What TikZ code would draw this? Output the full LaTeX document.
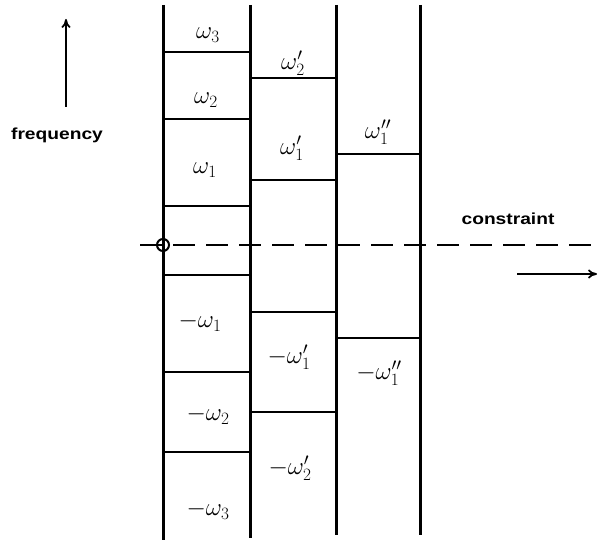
\documentclass[tikz,border=0pt]{standalone}
\usepackage{fontspec}
\newfontfamily\lblfont{Liberation Sans}
\usetikzlibrary{arrows.meta}
\begin{document}
\begin{tikzpicture}[x=1pt,y=-1pt,
  wall/.style={line width=3pt},
  level/.style={line width=2.8pt},
  dashline/.style={line width=2.4pt, dash pattern=on 22pt off 11pt},
  omega/.style={font=\fontsize{23}{25}\selectfont, inner sep=0pt},
  word/.style={font=\lblfont\bfseries\fontsize{16}{18}\selectfont, inner sep=0pt},
  arr/.style={line width=2.2pt, -{To[length=9pt,width=9pt,line width=1.8pt]}}]
\useasboundingbox (0,0) rectangle (598,543);
% columns
\coordinate (c1t) at (163,5);  \coordinate (c1b) at (163,540);
\coordinate (c2t) at (250,5);  \coordinate (c2b) at (250,538);
\coordinate (c3t) at (336,5);  \coordinate (c3b) at (336,535);
\coordinate (c4t) at (420,5);  \coordinate (c4b) at (420,535);
\draw[wall] (c1t) -- (c1b);
\draw[wall] (c2t) -- (c2b);
\draw[wall] (c3t) -- (c3b);
\draw[wall] (c4t) -- (c4b);
% levels column 1
\foreach \y in {52,119,206,275,372,452} \draw[level] (163,\y) -- (250,\y);
% levels column 2
\foreach \y in {78,180,312,412} \draw[level] (250,\y) -- (336,\y);
% levels column 3
\foreach \y in {154,338} \draw[level] (336,\y) -- (420,\y);
% dashed zero line
\coordinate (dl) at (140,245); \coordinate (dr) at (598,245);
\draw[dashline] (dl) -- (dr);
\node[draw, circle, line width=2pt, minimum size=12pt, inner sep=0pt] (zero) at (163,245) {};
% labels
\node[omega] (w3) at (208,35) {$\omega_3$};
\node[omega] (w2) at (206,100) {$\omega_2$};
\node[omega] (w1) at (205,170) {$\omega_1$};
\node[omega] (w2p) at (293,63) {$\omega_2'$};
\node[omega] (w1p) at (292,148) {$\omega_1'$};
\node[omega] (w1pp) at (378,132) {$\omega_1''$};
\node[omega] (mw1) at (200,322) {$-\omega_1$};
\node[omega] (mw1p) at (289,357) {$-\omega_1'$};
\node[omega] (mw1pp) at (379,373) {$-\omega_1''$};
\node[omega] (mw2) at (208,415) {$-\omega_2$};
\node[omega] (mw2p) at (290,468) {$-\omega_2'$};
\node[omega] (mw3) at (208,510) {$-\omega_3$};
% axis labels
\node[word] (freq) at (57,135) {\scalebox{1.2}[1]{frequency}};
\node[word] (cons) at (508,219) {\scalebox{1.2}[1]{constraint}};
\coordinate (fb) at (66,107); \coordinate (ft) at (66,19);
\draw[arr] (fb) -- (ft);
\coordinate (cl) at (517,274); \coordinate (cr) at (597,274);
\draw[arr] (cl) -- (cr);
\end{tikzpicture}
\end{document}
